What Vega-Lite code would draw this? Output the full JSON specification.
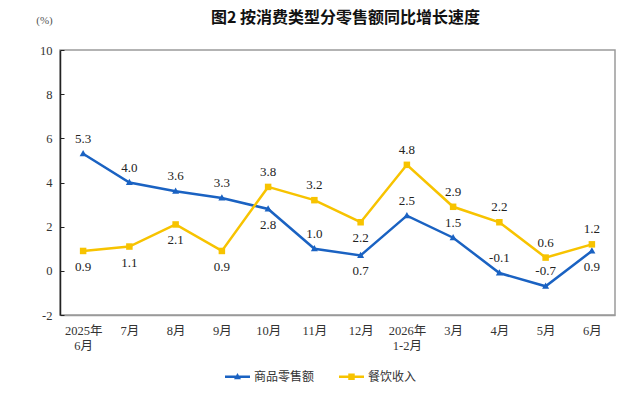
{
  "$schema": "https://vega.github.io/schema/vega-lite/v6.json",
  "width": 555,
  "height": 265,
  "autosize": "none",
  "padding": {"left": 60, "top": 50, "right": 25, "bottom": 86},
  "background": "white",
  "title": {
    "text": "图2  按消费类型分零售额同比增长速度",
    "font": "Noto Sans CJK SC",
    "fontSize": 16,
    "fontWeight": "bold",
    "color": "#111111",
    "anchor": "middle",
    "dx": 8,
    "offset": -12
  },
  "config": {
    "locale": {"number": {"decimal": ".", "thousands": ",", "grouping": [3], "currency": ["", ""], "minus": "-"}},
    "view": {"stroke": "#9a9a9a", "strokeWidth": 1.5}
  },
  "data": {
    "values": [
      {"month": "2025年6月", "series": "商品零售额", "value": 5.3},
      {"month": "2025年6月", "series": "餐饮收入", "value": 0.9},
      {"month": "7月", "series": "商品零售额", "value": 4.0},
      {"month": "7月", "series": "餐饮收入", "value": 1.1},
      {"month": "8月", "series": "商品零售额", "value": 3.6},
      {"month": "8月", "series": "餐饮收入", "value": 2.1},
      {"month": "9月", "series": "商品零售额", "value": 3.3},
      {"month": "9月", "series": "餐饮收入", "value": 0.9},
      {"month": "10月", "series": "商品零售额", "value": 2.8},
      {"month": "10月", "series": "餐饮收入", "value": 3.8},
      {"month": "11月", "series": "商品零售额", "value": 1.0},
      {"month": "11月", "series": "餐饮收入", "value": 3.2},
      {"month": "12月", "series": "商品零售额", "value": 0.7},
      {"month": "12月", "series": "餐饮收入", "value": 2.2},
      {"month": "2026年1-2月", "series": "商品零售额", "value": 2.5},
      {"month": "2026年1-2月", "series": "餐饮收入", "value": 4.8},
      {"month": "3月", "series": "商品零售额", "value": 1.5},
      {"month": "3月", "series": "餐饮收入", "value": 2.9},
      {"month": "4月", "series": "商品零售额", "value": -0.1},
      {"month": "4月", "series": "餐饮收入", "value": 2.2},
      {"month": "5月", "series": "商品零售额", "value": -0.7},
      {"month": "5月", "series": "餐饮收入", "value": 0.6},
      {"month": "6月", "series": "商品零售额", "value": 0.9},
      {"month": "6月", "series": "餐饮收入", "value": 1.2}
    ]
  },
  "encoding": {
    "x": {
      "field": "month",
      "type": "ordinal",
      "sort": null,
      "scale": {"type": "point", "padding": 0.5},
      "axis": {
        "title": null,
        "labelAngle": 0,
        "ticks": false,
        "domainColor": "#9a9a9a",
        "domainWidth": 1.5,
        "labelFont": "Liberation Serif, Noto Sans CJK SC",
        "labelFontSize": 12.5,
        "labelColor": "#333333",
        "labelPadding": 9,
        "labelLineHeight": 15,
        "labelExpr": "indexof(datum.label, '年') > 0 ? [slice(datum.label, 0, indexof(datum.label, '年') + 1), slice(datum.label, indexof(datum.label, '年') + 1)] : datum.label"
      }
    },
    "y": {
      "field": "value",
      "type": "quantitative",
      "scale": {"domain": [-2, 10], "nice": false},
      "axis": {
        "values": [-2, 0, 2, 4, 6, 8, 10],
        "grid": false,
        "tickSize": -4,
        "tickColor": "#222222",
        "domainColor": "#222222",
        "domainWidth": 1.5,
        "labelPadding": 12,
        "labelFont": "Liberation Serif",
        "labelFontSize": 12.5,
        "labelColor": "#333333",
        "title": "(%)",
        "titleAngle": 0,
        "titleX": -16,
        "titleY": -30,
        "titleAlign": "center",
        "titleBaseline": "middle",
        "titleFont": "Liberation Serif",
        "titleFontSize": 11,
        "titleFontWeight": "normal",
        "titleColor": "#555555"
      }
    }
  },
  "layer": [
    {
      "mark": {"type": "line", "strokeWidth": 2.5},
      "encoding": {
        "stroke": {
          "field": "series",
          "type": "nominal",
          "scale": {"domain": ["商品零售额", "餐饮收入"], "range": ["#1a62c2", "#f7c300"]},
          "legend": null
        }
      }
    },
    {
      "mark": {"type": "point", "filled": true, "size": 625, "opacity": 1},
      "encoding": {
        "fill": {
          "field": "series",
          "type": "nominal",
          "scale": {"range": ["#1a62c2", "#f7c300"]},
          "legend": null
        },
        "shape": {
          "field": "series",
          "type": "nominal",
          "scale": {"range": ["M0,-0.3L0.28,0.2L-0.28,0.2Z", "M-0.26,-0.26H0.26V0.26H-0.26Z"]},
          "legend": null
        }
      }
    },
    {
      "transform": [{"filter": "false"}],
      "mark": {"type": "point", "filled": true, "size": 625, "opacity": 1},
      "encoding": {
        "color": {
          "field": "series",
          "type": "nominal",
          "scale": {"domain": ["商品零售额", "餐饮收入"], "range": ["#1a62c2", "#f7c300"]},
          "legend": {
            "title": null,
            "orient": "none",
            "legendX": 165,
            "legendY": 314,
            "direction": "horizontal",
            "symbolSize": 625,
            "symbolStrokeWidth": 0,
            "symbolOpacity": 1,
            "labelFont": "Noto Sans CJK SC",
            "labelFontSize": 12,
            "labelColor": "#333333",
            "labelOffset": 4,
            "columnPadding": 24,
            "padding": 0
          }
        },
        "shape": {
          "field": "series",
          "type": "nominal",
          "scale": {
            "domain": ["商品零售额", "餐饮收入"],
            "range": [
              "M-1,-0.1H1V0.1H-1Z M0,-0.3L0.28,0.2L-0.28,0.2Z",
              "M-1,-0.1H1V0.1H-1Z M-0.26,-0.26H0.26V0.26H-0.26Z"
            ]
          },
          "legend": {
            "title": null,
            "orient": "none",
            "legendX": 165,
            "legendY": 314,
            "direction": "horizontal",
            "symbolSize": 625,
            "symbolStrokeWidth": 0,
            "symbolOpacity": 1,
            "labelFont": "Noto Sans CJK SC",
            "labelFontSize": 12,
            "labelColor": "#333333",
            "labelOffset": 4,
            "columnPadding": 24,
            "padding": 0
          }
        }
      }
    },
    {
      "transform": [
        {"filter": "!((datum.series == '商品零售额' && indexof(['10月', '12月', '6月'], datum.month) >= 0) || (datum.series == '餐饮收入' && indexof(['2025年6月', '7月', '8月', '9月', '12月'], datum.month) >= 0))"}
      ],
      "mark": {"type": "text", "dy": -15, "font": "Liberation Serif", "fontSize": 13, "color": "#222222"},
      "encoding": {
        "text": {"field": "value", "type": "quantitative", "format": ".1f"}
      }
    },
    {
      "transform": [
        {"filter": "(datum.series == '商品零售额' && indexof(['10月', '12月', '6月'], datum.month) >= 0) || (datum.series == '餐饮收入' && indexof(['2025年6月', '7月', '8月', '9月', '12月'], datum.month) >= 0)"}
      ],
      "mark": {"type": "text", "dy": 16, "font": "Liberation Serif", "fontSize": 13, "color": "#222222"},
      "encoding": {
        "text": {"field": "value", "type": "quantitative", "format": ".1f"}
      }
    }
  ],
  "resolve": {"scale": {"shape": "independent", "color": "independent"}}
}
